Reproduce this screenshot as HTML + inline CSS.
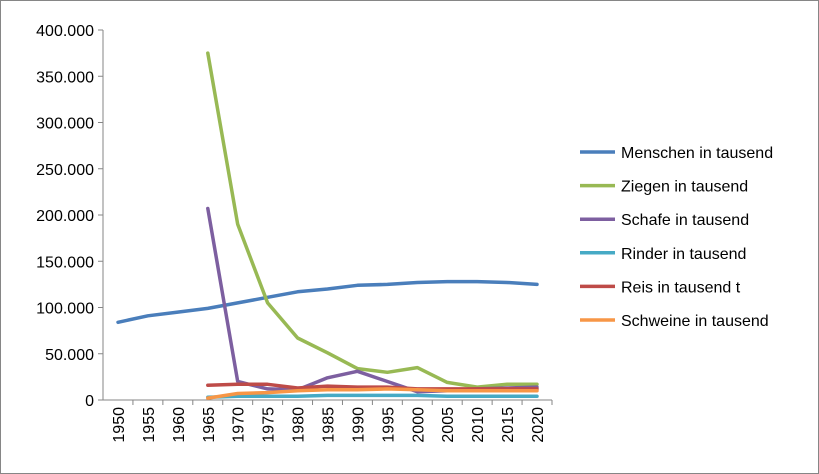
<!DOCTYPE html>
<html><head><meta charset="utf-8"><style>
html,body{margin:0;padding:0;background:#fff}
svg{display:block;font-family:"Liberation Sans",sans-serif}
</style></head><body>
<svg id="c" width="819" height="474" viewBox="0 0 819 474">
<rect x="0.5" y="0.5" width="818" height="473" fill="#fff" stroke="#868686"/>
<g id="grid"></g><g id="series"></g><g id="legend"></g>
</svg>
<script>
const categories=[1950,1955,1960,1965,1970,1975,1980,1985,1990,1995,2000,2005,2010,2015,2020];
const yTicks=[0,50000,100000,150000,200000,250000,300000,350000,400000];
const yTickLabels=["0","50.000","100.000","150.000","200.000","250.000","300.000","350.000","400.000"];
const seriesNames=["Menschen in tausend","Ziegen in tausend","Schafe in tausend","Rinder in tausend","Reis in tausend t","Schweine in tausend"];
const menschen=[84000,91000,95000,99000,105000,111000,117000,120000,124000,125000,127000,128000,128000,127000,125000];
const ziegen=[null,null,null,375000,190000,105000,67000,51000,34000,30000,35000,19000,14000,17000,17000];
const schafe=[null,null,null,207000,20000,12000,11000,24000,31000,20000,9000,10000,12000,13000,14000];
const rinder=[null,null,null,3000,4000,4000,4000,5000,5000,5000,5000,4000,4000,4000,4000];
const reis=[null,null,null,16000,17000,17000,13000,15000,14000,14000,12000,12000,12000,12000,12000];
const schweine=[null,null,null,2000,7000,8000,10000,11000,11000,12000,11000,10000,10000,10000,10000];
const colors=["#4a7ebb","#98b954","#7d5fa0","#46aac5","#be4b48","#f79646"];
const allSeries=[menschen,ziegen,schafe,rinder,reis,schweine];
const NS="http://www.w3.org/2000/svg";
const x0=103,x1=552,y0=400,y1=30;
const step=(x1-x0)/categories.length;
function xs(i){return x0+step*(i+0.5);}
function ys(v){return y0-(v/400000)*(y0-y1);}
function mk(t,a,p){const e=document.createElementNS(NS,t);for(const k in a)e.setAttribute(k,a[k]);p.appendChild(e);return e;}
const grid=document.getElementById('grid');
const ax=mk('line',{x1:x0,y1:y1,x2:x0,y2:y0,stroke:'#868686'},grid);


const bx=mk('line',{x1:x0,y1:y0,x2:x1,y2:y0,stroke:'#868686'},grid);


yTicks.forEach((v,i)=>{
  mk('line',{x1:x0-5,y1:ys(v),x2:x0,y2:ys(v),stroke:'#868686'},grid);
  const t=mk('text',{x:x0-9,y:ys(v)+6,'text-anchor':'end','font-size':16,fill:'#000'},grid);
  t.textContent=yTickLabels[i];
  
  
});
categories.forEach((c,i)=>{
  mk('line',{x1:x0+step*(i+1),y1:y0,x2:x0+step*(i+1),y2:y0+5,stroke:'#868686'},grid);
  const t=mk('text',{x:0,y:0,'text-anchor':'end','font-size':16,fill:'#000',transform:`translate(${xs(i)+6},${y0+7}) rotate(-90)`},grid);
  t.textContent=c;
  
  
});
const sg=document.getElementById('series');
allSeries.forEach((s,k)=>{
  let d='';s.forEach((v,i)=>{if(v==null)return;d+=(d?'L':'M')+xs(i).toFixed(1)+','+ys(v).toFixed(1);});
  const p=mk('path',{d:d,fill:'none',stroke:colors[k],'stroke-width':3.5,'stroke-linejoin':'round','stroke-linecap':'round'},sg);
  
  
});
const lg=document.getElementById('legend');
seriesNames.forEach((n,k)=>{
  const y=152+k*33.6;
  const l=mk('line',{x1:580,y1:y,x2:615,y2:y,stroke:colors[k],'stroke-width':3.5},lg);
  
  
  const t=mk('text',{x:621,y:y+6,'font-size':16,fill:'#000'},lg);
  t.textContent=n;
  
  
});
</script>
</body></html>
